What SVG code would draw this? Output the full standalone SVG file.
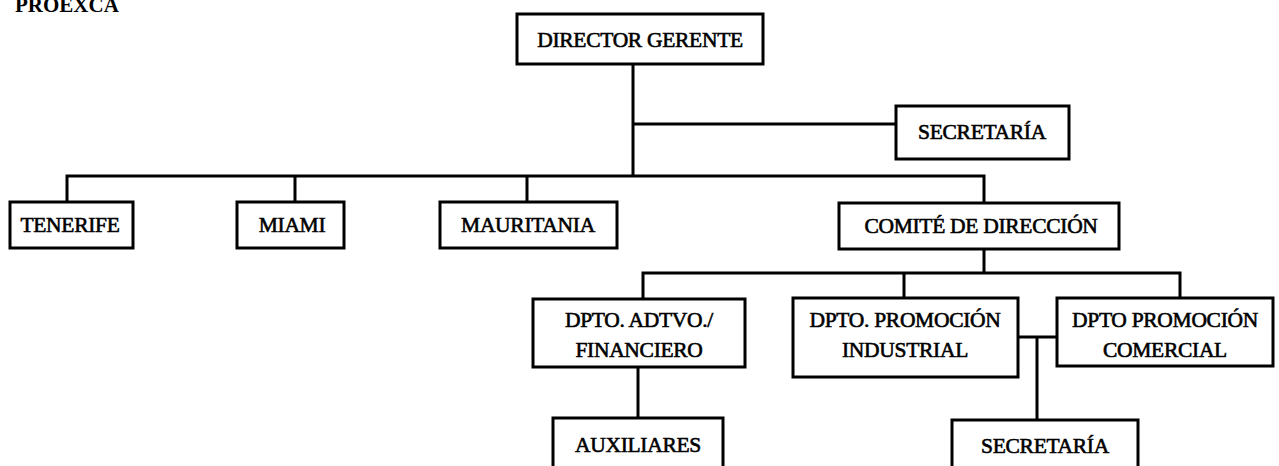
<svg xmlns="http://www.w3.org/2000/svg" width="1279" height="466" viewBox="0 0 1279 466">
<style>
  .box { fill: #fff; stroke: #000; stroke-width: 3; }
  .t { font-family: "Liberation Serif", "Times New Roman", serif; font-size: 21.5px; font-weight: normal; fill: #000; stroke: #000; stroke-width: 0.6; text-anchor: middle; letter-spacing: -0.3px; }
  .title { font-family: "Liberation Serif", "Times New Roman", serif; font-size: 21px; font-weight: bold; fill: #000; }
  .c { fill: none; stroke: #000; stroke-width: 3; }
</style>
<rect width="1279" height="466" fill="#fff"/>
<text class="title" x="15" y="12">PROEXCA</text>
<g id="connectors">
  <path class="c" d="M633 64 V176"/>
  <path class="c" d="M633 124 H896"/>
  <path class="c" d="M67 202 V176 H984 V202"/>
  <path class="c" d="M295 176 V202"/>
  <path class="c" d="M527 176 V202"/>
  <path class="c" d="M984 248 V273"/>
  <path class="c" d="M643 299 V273 H1180 V298"/>
  <path class="c" d="M904 273 V298"/>
  <path class="c" d="M638 367 V418"/>
  <path class="c" d="M1018 337 H1057"/>
  <path class="c" d="M1037 337 V420"/>
</g>
<g id="director"><rect class="box" x="517" y="14" width="246" height="50"/><text class="t" x="640" y="47">DIRECTOR GERENTE</text></g>
<g id="secretaria1"><rect class="box" x="896" y="106" width="173" height="53"/><text class="t" x="982" y="139">SECRETARÍA</text></g>
<g id="tenerife"><rect class="box" x="10" y="202" width="123" height="46"/><text class="t" x="70" y="232">TENERIFE</text></g>
<g id="miami"><rect class="box" x="237" y="202" width="107" height="46"/><text class="t" x="292" y="232">MIAMI</text></g>
<g id="mauritania"><rect class="box" x="440" y="202" width="177" height="46"/><text class="t" x="528" y="232">MAURITANIA</text></g>
<g id="comite"><rect class="box" x="839" y="203" width="280" height="46"/><text class="t" x="981" y="233">COMITÉ DE DIRECCIÓN</text></g>
<g id="adtvo"><rect class="box" x="533" y="299" width="212" height="68"/><text class="t" x="639" y="327">DPTO. ADTVO./</text><text class="t" x="639" y="357">FINANCIERO</text></g>
<g id="industrial"><rect class="box" x="793" y="298" width="225" height="79"/><text class="t" x="905" y="327">DPTO. PROMOCIÓN</text><text class="t" x="905" y="357">INDUSTRIAL</text></g>
<g id="comercial"><rect class="box" x="1057" y="298" width="216" height="68"/><text class="t" x="1165" y="327">DPTO PROMOCIÓN</text><text class="t" x="1165" y="357">COMERCIAL</text></g>
<g id="auxiliares"><rect class="box" x="553" y="418" width="170" height="55"/><text class="t" x="638" y="452">AUXILIARES</text></g>
<g id="secretaria2"><rect class="box" x="952" y="420" width="186" height="55"/><text class="t" x="1045" y="453">SECRETARÍA</text></g>
</svg>
